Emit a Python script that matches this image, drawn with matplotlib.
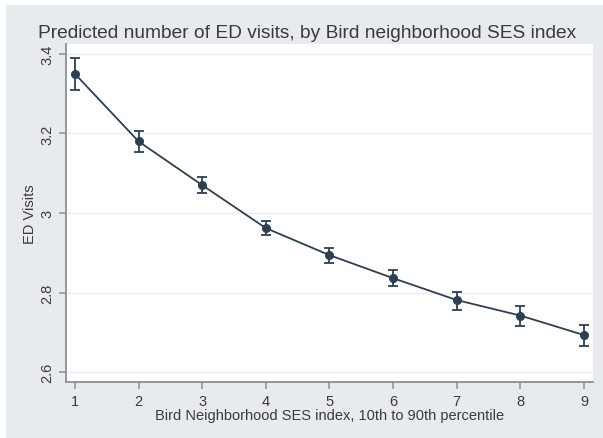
import numpy as np
import matplotlib
matplotlib.use('Agg')
import matplotlib.pyplot as plt
from matplotlib.patches import Rectangle

# data
ses = [1, 2, 3, 4, 5, 6, 7, 8, 9]
visits = [3.350, 3.180, 3.070, 2.962, 2.894, 2.836, 2.781, 2.742, 2.693]
ci_hi = [3.389, 3.207, 3.091, 2.981, 2.911, 2.857, 2.802, 2.765, 2.719]
ci_lo = [3.310, 3.153, 3.050, 2.945, 2.874, 2.816, 2.757, 2.717, 2.665]
yticks = [2.6, 2.8, 3.0, 3.2, 3.4]
ytick_labels = ['2.6', '2.8', '3', '3.2', '3.4']

plt.rcParams['font.family'] = ['Liberation Sans', 'DejaVu Sans']

bg = '#e8ebee'
navy = '#2f3f52'
axc = '#8a8f96'
txt = '#3a3a3a'

fig = plt.figure(figsize=(6.03, 4.39), dpi=100, facecolor='white')
# gray outer panel (thin white margin on top and left)
fig.patches.append(Rectangle((6/603, 0), 1, 1 - 6/439, transform=fig.transFigure,
                             facecolor=bg, edgecolor='none', zorder=-5))

ax = fig.add_axes([66/603, 1 - 383/439, (593-66)/603, (383-45)/439])
ax.set_facecolor('white')

v = np.array(visits)
err = [v - np.array(ci_lo), np.array(ci_hi) - v]
ax.errorbar(ses, visits, yerr=err, fmt='o-', color=navy, ms=5.5, lw=1.3,
            elinewidth=1.3, capsize=3.5, capthick=1.3, zorder=3)

ax.set_xlim(0.86, 9.14)
ax.set_ylim(2.575, 3.425)
ax.set_xticks(ses)
ax.set_yticks(yticks)
ax.set_yticklabels(ytick_labels, rotation=90, va='center')
ax.grid(axis='y', color='#eaeef1', lw=1.0)
ax.set_axisbelow(True)

for s in ['top', 'right']:
    ax.spines[s].set_visible(False)
for s in ['left', 'bottom']:
    ax.spines[s].set_color(axc)
    ax.spines[s].set_linewidth(1.3)
ax.tick_params(colors=axc, length=5, width=1.1, labelcolor=txt, labelsize=10.5)

ax.set_ylabel('ED Visits', fontsize=10.5, color=txt, labelpad=2)
ax.set_xlabel('Bird Neighborhood SES index, 10th to 90th percentile', fontsize=10.5,
              color=txt, labelpad=0)
fig.text(0.5 * (37 + 577) / 603, 1 - 33/439, 'Predicted number of ED visits, by Bird neighborhood SES index',
         ha='center', va='center', fontsize=13.8, color=txt)

plt.savefig('out.png', dpi=100, facecolor='white')
